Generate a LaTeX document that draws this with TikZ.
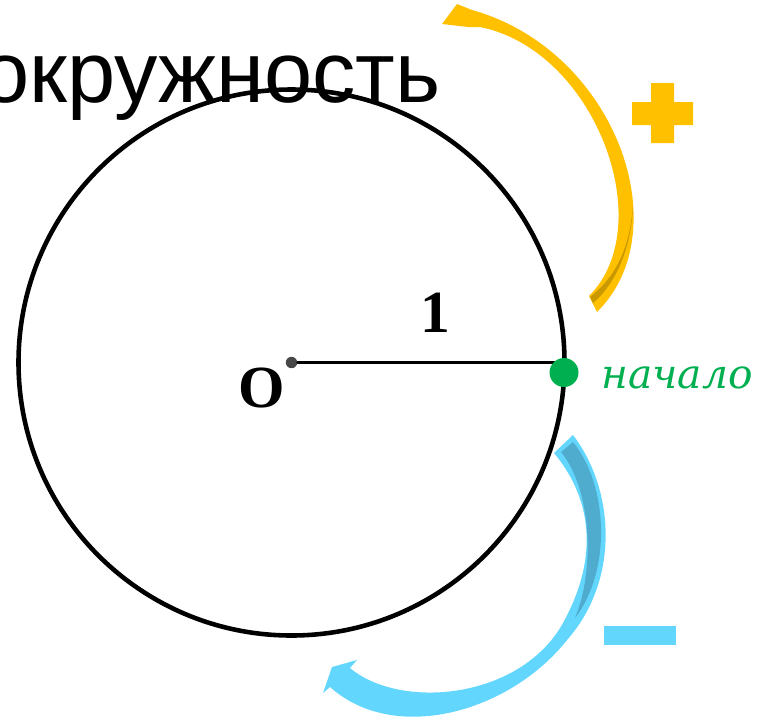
\documentclass[tikz,border=0pt]{standalone}
\usepackage{fontspec}
\setmainfont{Liberation Serif}
\newfontfamily\titlefont{Liberation Sans}
\newfontfamily\labelfont{DejaVu Serif}
\definecolor{plusyellow}{HTML}{FFC000}
\definecolor{plusdark}{HTML}{CA9900}
\definecolor{minusblue}{HTML}{63D6FE}
\definecolor{minusdark}{HTML}{4FACCE}
\definecolor{startgreen}{HTML}{00B050}
\tikzset{
  numlabel/.style={inner sep=0pt,font=\fontsize{34}{40}\selectfont\bfseries},
  dotnode/.style={circle,inner sep=0pt}
}
\begin{document}
\begin{tikzpicture}[x=0.02cm,y=-0.02cm,line join=round,line cap=round]
			\useasboundingbox (0,0) rectangle (763,721);
			\clip (0,0) rectangle (763,721);
			\node[anchor=base east,inner sep=0pt,font=\titlefont\fontsize{49.3}{59}\selectfont] (title) at (441,102) {окружность};
			\node[dotnode,fill=black!72,minimum size=6.5pt] (O) at (291.5,362.5) {};
			\draw[line width=2.6pt] (O.center) circle[radius=273];
			\coordinate (R) at (565,362.5);
			\draw[line width=1.5pt] (O) -- (R);
			\node[dotnode,fill=startgreen,minimum size=16.5pt] (start) at (564,372.5) {};
			\node[anchor=base west,inner sep=0pt,text=startgreen,font=\labelfont\itshape\fontsize{23.2}{28}\selectfont] (startlabel) at (601,388) {начало};
			\node[numlabel] (one) at (435.5,313) {1};
			\node[numlabel] (olabel) at (262,388) {O};
			\fill[plusyellow] (597,312) .. controls (680,230) and (615,50) .. (472,10)
				-- (457,4) -- (442,24) -- (468,27) -- (480,27)
				.. controls (595,50) and (660,225) .. (589,296) -- cycle;
			\fill[plusdark] (593,303) .. controls (620,280) and (632,240) .. (633,205)
				.. controls (630,245) and (618,275) .. (590,297) -- cycle;
			\fill[plusyellow] (632,102) rectangle (693,125) (651,83) rectangle (674,143);
			\fill[minusblue] (573,435) .. controls (615,490) and (620,580) .. (567,640)
				.. controls (510,712) and (395,745) .. (330,687)
				-- (323,693) -- (332,667) -- (357,660) -- (350,668)
				.. controls (400,710) and (520,700) .. (563,623)
				.. controls (595,565) and (597,505) .. (554,453) -- cycle;
			\fill[minusdark] (561,452) -- (573,442) .. controls (608,485) and (612,570) .. (575,618)
				.. controls (595,570) and (592,490) .. (561,452) -- cycle;
			\fill[minusblue] (604,626) rectangle (676,645);
	\end{tikzpicture}
\end{document}
